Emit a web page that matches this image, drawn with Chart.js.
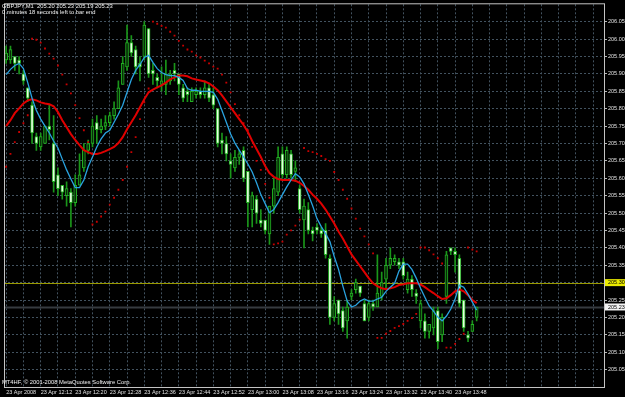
<!DOCTYPE html>
<html>
<head>
<meta charset="utf-8">
<title>GBPJPY,M1</title>
<script src="https://cdn.jsdelivr.net/npm/chart.js@4.4.1/dist/chart.umd.min.js"></script>
<style>
html, body { margin: 0; padding: 0; background: #000; }
</style>
</head>
<body>
<canvas id="myChart" width="625" height="397"></canvas>
<script>
// M1 bars, 23 Apr 2008 12:04 .. 13:53
const opens = [
  205.94,205.94,205.95,205.94,205.90,205.86,205.81,205.72,205.69,205.70,
  205.75,205.70,205.61,205.58,205.55,205.56,205.53,205.58,205.63,205.68,
  205.70,205.76,205.74,205.75,205.76,205.78,205.80,205.87,205.92,205.99,
  205.97,205.93,205.95,206.03,205.91,205.89,205.87,205.87,205.88,205.91,
  205.90,205.86,205.85,205.82,205.84,205.85,205.84,205.86,205.84,205.80,
  205.71,205.70,205.65,205.63,205.66,205.68,205.62,205.51,205.54,205.48,
  205.48,205.44,205.52,205.56,205.67,205.61,205.67,205.62,205.57,205.48,
  205.51,205.45,205.46,205.45,205.45,205.37,205.20,205.25,205.22,205.19,
  205.26,205.28,205.29,205.24,205.20,205.24,205.23,205.26,205.31,205.35,
  205.36,205.36,205.36,205.28,205.31,205.27,205.19,205.19,205.16,205.17,
  205.22,205.15,205.26,205.40,205.39,205.37,205.25,205.15,205.16,205.20
];
const highs = [
  205.98,205.98,205.95,205.95,205.91,205.86,205.82,205.73,205.73,205.75,
  205.81,205.78,205.63,205.58,205.59,205.57,205.61,205.67,205.70,205.71,
  205.77,205.78,205.77,205.78,205.79,205.82,205.88,205.95,206.04,206.01,
  205.98,205.95,206.05,206.03,205.93,205.90,205.92,205.94,205.91,205.93,
  205.90,205.87,205.86,205.86,205.86,205.86,205.88,205.87,205.86,205.80,
  205.73,205.72,205.67,205.68,205.68,205.69,205.62,205.56,205.55,205.51,
  205.48,205.52,205.60,205.69,205.69,205.69,205.68,205.65,205.58,205.54,
  205.53,205.46,205.47,205.46,205.47,205.38,205.26,205.25,205.23,205.25,
  205.28,205.31,205.29,205.25,205.25,205.25,205.38,205.33,205.37,205.40,
  205.38,205.37,205.37,205.33,205.32,205.28,205.25,205.21,205.18,205.23,
  205.23,205.21,205.39,205.40,205.40,205.38,205.25,205.16,205.19,205.23
];
const lows = [
  205.93,205.93,205.91,205.90,205.87,205.82,205.70,205.68,205.68,205.70,
  205.71,205.56,205.55,205.54,205.52,205.46,205.52,205.58,205.62,205.67,
  205.69,205.70,205.73,205.74,205.75,205.77,205.80,205.87,205.91,205.95,
  205.90,205.88,205.94,205.89,205.87,205.86,205.85,205.84,205.87,205.88,
  205.84,205.82,205.82,205.82,205.83,205.83,205.83,205.82,205.80,205.69,
  205.67,205.65,205.60,205.62,205.64,205.59,205.46,205.46,205.47,205.46,
  205.44,205.41,205.50,205.55,205.60,205.60,205.60,205.59,205.50,205.40,
  205.44,205.42,205.44,205.43,205.37,205.18,205.19,205.18,205.16,205.14,
  205.25,205.27,205.26,205.19,205.19,205.22,205.23,205.25,205.28,205.34,
  205.35,205.34,205.31,205.27,205.26,205.24,205.17,205.14,205.14,205.15,
  205.11,205.13,205.24,205.38,205.33,205.23,205.16,205.13,205.16,205.19
];
const closes = [
  205.96,205.97,205.93,205.93,205.88,205.83,205.73,205.70,205.72,205.75,
  205.74,205.59,205.57,205.56,205.57,205.53,205.58,205.61,205.68,205.70,
  205.75,205.74,205.75,205.76,205.78,205.80,205.86,205.93,205.99,205.96,
  205.92,205.92,206.04,205.90,205.90,205.88,205.88,205.90,205.90,205.90,
  205.87,205.83,205.84,205.85,205.85,205.84,205.86,205.83,205.81,205.70,
  205.70,205.67,205.64,205.66,205.67,205.60,205.53,205.55,205.50,205.47,
  205.45,205.52,205.57,205.66,205.61,205.68,205.61,205.63,205.51,205.52,
  205.45,205.44,205.45,205.44,205.38,205.20,205.24,205.21,205.17,205.23,
  205.27,205.30,205.27,205.19,205.24,205.23,205.27,205.30,205.35,205.37,
  205.37,205.35,205.32,205.31,205.28,205.26,205.24,205.16,205.18,205.22,
  205.13,205.20,205.38,205.39,205.38,205.24,205.17,205.14,205.18,205.23
];
// fast moving average (blue)
const fastMA = [
  205.898,205.913,205.924,205.930,205.915,205.875,205.830,205.795,205.770,205.750,
  205.730,205.707,205.687,205.655,205.624,205.598,205.573,205.573,205.595,205.633,
  205.661,205.690,205.713,205.730,205.738,205.761,205.784,205.810,205.847,205.884,
  205.910,205.927,205.947,205.953,205.933,205.915,205.904,205.898,205.895,205.895,
  205.890,205.881,205.858,205.853,205.853,205.850,205.850,205.850,205.847,205.827,
  205.795,205.761,205.727,205.701,205.681,205.661,205.641,205.618,205.587,205.553,
  205.527,205.501,205.510,205.530,205.553,205.575,205.595,205.613,205.604,205.584,
  205.553,205.521,205.484,205.461,205.441,205.418,205.375,205.338,205.290,205.247,
  205.230,205.235,205.247,205.253,205.247,205.247,205.253,205.258,205.275,205.287,
  205.298,205.333,205.353,205.353,205.338,205.313,205.284,205.258,205.233,205.218,
  205.201,205.190,205.204,205.224,205.253,205.293,205.287,205.267,205.244,205.221
];
// slow moving average (red)
const slowMA = [
  205.750,205.767,205.787,205.801,205.815,205.824,205.827,205.824,205.818,205.815,
  205.813,205.807,205.790,205.767,205.747,205.727,205.710,205.695,205.681,205.675,
  205.670,205.670,205.673,205.678,205.684,205.690,205.701,205.718,205.741,205.761,
  205.781,205.804,205.827,205.847,205.855,205.861,205.867,205.875,205.884,205.890,
  205.895,205.895,205.893,205.887,205.884,205.881,205.878,205.873,205.864,205.853,
  205.838,205.821,205.804,205.787,205.770,205.753,205.733,205.707,205.684,205.661,
  205.635,205.615,205.604,205.598,205.595,205.595,205.595,205.593,205.587,205.578,
  205.567,205.553,205.541,205.527,205.510,205.490,205.470,205.447,205.427,205.404,
  205.381,205.364,205.347,205.330,205.313,205.298,205.290,205.284,205.281,205.284,
  205.287,205.293,205.295,205.298,205.298,205.298,205.295,205.287,205.278,205.270,
  205.261,205.253,205.255,205.264,205.275,205.281,205.275,205.264,205.250,205.241
];
// parabolic SAR dots
const sar = [
  205.633,205.670,205.704,205.733,205.758,205.781,206.001,205.998,205.990,205.973,
  205.958,205.944,205.924,205.898,205.870,205.844,205.810,205.773,205.738,205.704,
  205.467,205.475,205.490,205.504,205.524,205.544,205.567,205.595,205.633,205.675,
  205.718,205.770,205.818,205.858,206.050,206.044,206.038,206.033,206.021,206.010,
  205.995,205.981,205.970,205.964,205.953,205.947,205.938,205.930,205.921,205.915,
  205.898,205.875,205.847,205.813,205.781,205.758,205.738,205.690,205.650,205.624,
  205.584,205.544,205.410,205.413,205.418,205.438,205.450,205.464,205.481,205.687,
  205.678,205.675,205.670,205.664,205.655,205.650,205.618,205.595,205.567,205.541,
  205.513,205.484,205.455,205.433,205.410,205.384,205.141,205.141,205.153,205.161,
  205.170,205.175,205.181,205.190,205.198,205.210,205.401,205.401,205.393,205.381,
  205.370,205.355,205.113,205.113,205.124,205.138,205.153,205.401,205.395,205.390
];
const timeTicks = ["23 Apr 2008", "23 Apr 12:12", "23 Apr 12:20", "23 Apr 12:28", "23 Apr 12:36",
  "23 Apr 12:44", "23 Apr 12:52", "23 Apr 13:00", "23 Apr 13:08", "23 Apr 13:16",
  "23 Apr 13:24", "23 Apr 13:32", "23 Apr 13:40", "23 Apr 13:48"];
const priceTicks = [206.05, 206.00, 205.95, 205.90, 205.85, 205.80, 205.75, 205.70, 205.65, 205.60,
  205.55, 205.50, 205.45, 205.40, 205.35, 205.30, 205.25, 205.20, 205.15, 205.10, 205.05];
const levelLine = 205.30;   // yellow horizontal line
const bidPrice = 205.23;    // current bid line
const headerLines = ["GBPJPY,M1  205.20 205.23 205.19 205.23", "0 minutes 18 seconds left to bar end"];
const footer = "MT4HF, \u00a9 2001-2008 MetaQuotes Software Corp.";

// minute slots incl. the empty shift area on the right
const slots = 139;
const categories = [];
for (let i = 0; i < slots; i++) {
  let m = 12 * 60 + 4 + i;
  categories.push(Math.floor(m / 60) + ':' + String(m % 60).padStart(2, '0'));
}

const font = '"Liberation Sans", Arial, sans-serif';
const gridColor = '#42525f';
const textColor = '#e0e0e0';

const mt4Plugin = {
  id: 'mt4',
  beforeDraw(chart) {
    const c = chart.ctx;
    c.save();
    c.fillStyle = '#000';
    c.fillRect(0, 0, chart.width, chart.height);
    c.restore();
  },
  beforeDatasetsDraw(chart) {
    const c = chart.ctx, a = chart.chartArea, y = chart.scales.y;
    c.save();
    let yb = Math.round(y.getPixelForValue(bidPrice)) + 0.5;
    c.strokeStyle = '#363b40';
    c.lineWidth = 2;
    c.beginPath(); c.moveTo(a.left, yb); c.lineTo(a.right, yb); c.stroke();
    let yl = Math.round(y.getPixelForValue(levelLine)) + 0.5;
    c.strokeStyle = '#9a9a00';
    c.lineWidth = 1;
    c.beginPath(); c.moveTo(a.left, yl); c.lineTo(a.right, yl); c.stroke();
    c.restore();
  },
  afterDraw(chart) {
    const c = chart.ctx, a = chart.chartArea, y = chart.scales.y;
    c.save();
    // frame
    c.strokeStyle = '#c4c4c4';
    c.lineWidth = 1;
    c.strokeRect(a.left + 0.5, a.top - 0.5, a.right - a.left, a.bottom - a.top + 1);
    // texts
    c.fillStyle = '#f0f0f0';
    c.font = '5.8px ' + font;
    c.textBaseline = 'middle';
    c.textAlign = 'left';
    c.fillText(headerLines[0], 2, 6);
    c.fillText(headerLines[1], 2, 12);
    c.fillText(footer, 2, 382);
    // price boxes on the axis
    c.font = '5.5px ' + font;
    const box = (v, bg) => {
      let py = y.getPixelForValue(v);
      c.fillStyle = bg;
      c.fillRect(a.right + 1, py - 3.5, 20, 7);
      c.fillStyle = '#000';
      c.fillText(v.toFixed(2), a.right + 4, py + 0.3);
    };
    box(levelLine, '#eaea00');
    box(bidPrice, '#f2f2f2');
    c.restore();
  }
};

let ctx = document.getElementById("myChart").getContext('2d');

let myChart = new Chart(ctx, {
  type: 'bar',
  data: {
    labels: categories,
    datasets: [
      {
        label: 'fast MA',
        type: 'line',
        data: fastMA,
        borderColor: '#2aa3e0',
        borderWidth: 1.3,
        pointRadius: 0,
        tension: 0,
        order: 1
      },
      {
        label: 'slow MA',
        type: 'line',
        data: slowMA,
        borderColor: '#e00000',
        borderWidth: 2,
        pointRadius: 0,
        tension: 0,
        order: 2
      },
      {
        label: 'SAR',
        type: 'line',
        data: sar,
        showLine: false,
        pointStyle: 'rect',
        pointRadius: 1.3,
        pointBorderWidth: 0,
        pointBackgroundColor: '#c80000',
        order: 3
      },
      {
        label: 'body',
        data: opens.map((o, i) => [o, closes[i]]),
        backgroundColor: opens.map((o, i) => closes[i] >= o ? '#082c08' : '#e6ffe0'),
        borderColor: '#22b022',
        borderWidth: 1,
        borderSkipped: false,
        barThickness: 3,
        grouped: false,
        order: 4
      },
      {
        label: 'wick',
        data: lows.map((l, i) => [l, highs[i]]),
        backgroundColor: '#1a961a',
        barThickness: 1,
        grouped: false,
        order: 5
      }
    ]
  },
  options: {
    responsive: false,
    animation: false,
    events: [],
    layout: { padding: { left: 0, top: 2, right: 0, bottom: 0 } },
    plugins: { legend: { display: false }, tooltip: { enabled: false } },
    scales: {
      x: {
        type: 'category',
        offset: true,
        afterFit(s) { s.height = 10; },
        grid: {
          offset: false,
          drawTicks: false,
          color: c => (c.index % 4 === 0 ? gridColor : 'rgba(0,0,0,0)')
        },
        border: { display: false, dash: [2, 2] },
        ticks: {
          autoSkip: false,
          maxRotation: 0,
          minRotation: 0,
          align: 'start',
          padding: 2,
          color: textColor,
          font: { family: font, size: 5.5 },
          callback: (v, i) => (i % 8 === 0 && i / 8 < timeTicks.length ? timeTicks[i / 8] : '')
        }
      },
      y: {
        position: 'right',
        min: 205.0,
        max: 206.1,
        afterBuildTicks(s) { s.ticks = priceTicks.map(v => ({ value: v })); },
        afterFit(s) { s.width = 21; },
        grid: { color: gridColor, drawTicks: true, tickLength: 3, tickColor: '#b8b8b8' },
        border: { display: false, dash: [2, 2] },
        ticks: {
          padding: 1,
          color: textColor,
          font: { family: font, size: 5.5 },
          callback: v => Number(v).toFixed(2)
        }
      }
    }
  },
  plugins: [mt4Plugin]
});
</script>
</body>
</html>
